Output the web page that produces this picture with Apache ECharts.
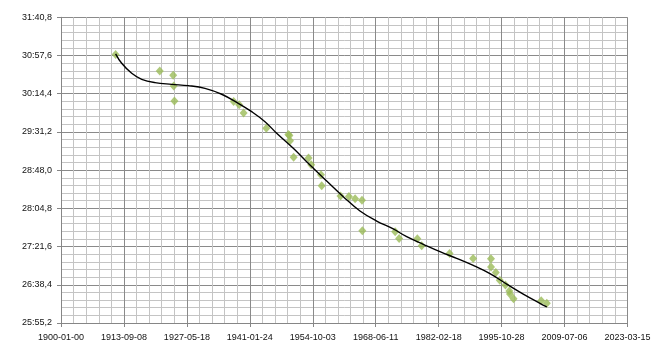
<!DOCTYPE html>
<html>
<head>
<meta charset="utf-8">
<script src="https://cdn.jsdelivr.net/npm/echarts@6/dist/echarts.min.js"></script>
<style>
html,body{margin:0;padding:0;background:#fff;}
#c{width:666px;height:356px;}
</style>
</head>
<body>
<div id="c"></div>
<script>
// X tick labels (Excel date serials 0, 5000, ... 45000)
var xTickLabels = ['1900-01-00','1913-09-08','1927-05-18','1941-01-24','1954-10-03','1968-06-11','1982-02-18','1995-10-28','2009-07-06','2023-03-15'];
// Record dates
var recordDates = ['1911-11-16','1921-06-22','1924-05-25','1924-07-06','1924-08-31','1937-07-18','1938-09-29','1939-09-17','1944-08-25','1949-06-11','1949-09-01','1949-10-22','1950-08-04','1953-11-01','1954-06-01','1956-07-15','1956-09-11','1960-10-15','1962-08-11','1963-12-18','1965-06-16','1965-07-14','1972-09-03','1973-07-13','1977-06-30','1978-06-11','1984-07-02','1989-08-18','1993-07-05','1993-07-10','1994-07-22','1995-06-05','1996-08-23','1997-07-04','1997-08-22','1998-06-01','2004-06-08','2005-08-26'];
// Record times in seconds
var recordTimes = [1858.8,1840.2,1835.4,1823.2,1806.2,1805.6,1802.0,1792.6,1775.4,1768.2,1767.2,1761.2,1742.6,1741.6,1734.2,1722.8,1710.4,1698.8,1698.2,1695.6,1694.0,1659.4,1658.4,1650.8,1650.47,1642.4,1633.81,1628.23,1627.91,1618.38,1612.23,1603.53,1598.08,1591.32,1587.85,1582.75,1580.31,1577.53];
// Trendline: x as Excel date serial, y in seconds
var trendX = [4338,4821,5616,6410,7466,8793,10112,11438,12764,14083,15147,16204,17133,18452,19778,21105,22423,23750,25076,26395,27459,28778,30104,31430,32749,34075,35402,36720,38047,38590];
var trendY = [1859.5,1848.8,1837.5,1830.7,1826.9,1825.0,1823.5,1820.5,1813.8,1803.6,1794.1,1782.8,1769.7,1752.7,1733.8,1715.7,1698.0,1681.8,1670.5,1661.5,1652.8,1644.2,1635.8,1628.3,1620.3,1611.0,1599.2,1587.9,1577.5,1573.4];

function excelSerial(s){
  var p = s.split('-');
  var t = Date.UTC(+p[0], +p[1]-1, +p[2]);
  return Math.round((t - Date.UTC(1899,11,30)) / 86400000);
}
function fmtTime(v){
  var m = Math.floor(v/60 + 1e-9);
  var sec = v - m*60;
  var s = (Math.round(sec*10)/10).toFixed(1);
  if (s.length < 4) s = '0' + s;
  return m + ':' + s.replace('.', ',');
}

var scatterData = recordDates.map(function(d,i){ return [excelSerial(d), recordTimes[i]]; });
var trendData = trendX.map(function(x,i){ return [x, trendY[i]]; });

var chart = echarts.init(document.getElementById('c'), null, {renderer:'canvas'});
var labelFont = {fontFamily:'Liberation Sans, Arial, sans-serif', fontSize:9, color:'#111'};
chart.setOption({
  animation:false,
  backgroundColor:'#ffffff',
  grid:{left:61, right:38.5, top:17.3, bottom:33, containLabel:false},
  xAxis:{
    type:'value', min:0, max:45000, interval:5000,
    axisLine:{show:true, lineStyle:{color:'#868686', width:1}},
    axisTick:{show:true, length:4, lineStyle:{color:'#868686'}},
    axisLabel:Object.assign({margin:10, showMaxLabel:true, showMinLabel:true, hideOverlap:false,
      formatter:function(v){ return xTickLabels[Math.round(v/5000)]; }}, labelFont),
    splitLine:{show:true, lineStyle:{color:'#8a8a8a', width:1}},
    minorTick:{show:false, splitNumber:5},
    minorSplitLine:{show:true, lineStyle:{color:'#c4c4c4', width:1}}
  },
  yAxis:{
    type:'value', min:1555.2, max:1900.8, interval:43.2,
    axisLine:{show:true, lineStyle:{color:'#868686', width:1}},
    axisTick:{show:true, length:4, lineStyle:{color:'#868686'}},
    axisLabel:Object.assign({margin:9, formatter:function(v){ return fmtTime(v); }}, labelFont),
    splitLine:{show:true, lineStyle:{color:'#8a8a8a', width:1}},
    minorTick:{show:false, splitNumber:5},
    minorSplitLine:{show:true, lineStyle:{color:'#c4c4c4', width:1}}
  },
  series:[
    {
      type:'scatter', data:scatterData, symbol:'diamond', symbolSize:[8,9],
      itemStyle:{color:'#9bbb59'}, z:3
    },
    {
      type:'line', data:trendData, smooth:0.4, showSymbol:false, symbol:'none',
      lineStyle:{color:'#000000', width:1.4}, z:4
    }
  ]
});
</script>
</body>
</html>
